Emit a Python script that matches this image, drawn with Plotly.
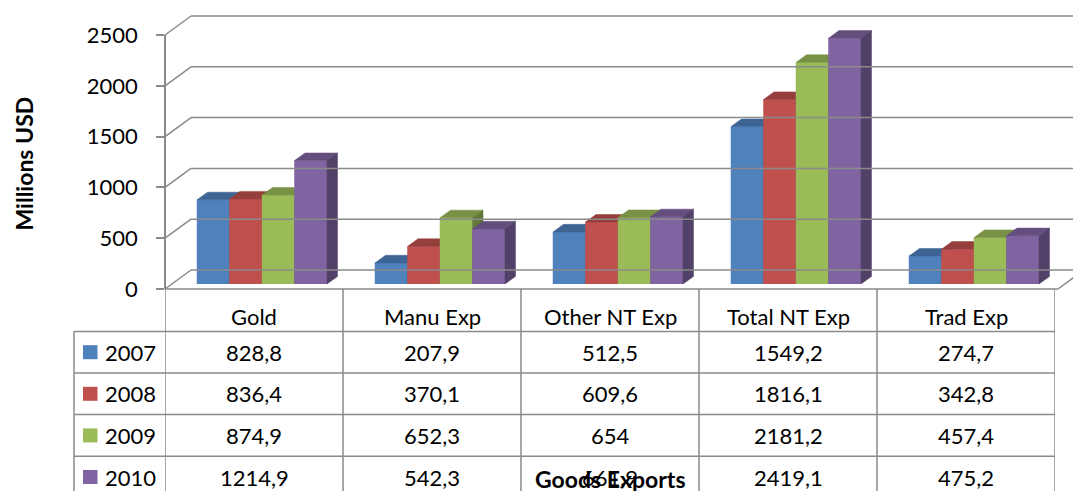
import plotly.graph_objects as go

# ---------------- data ----------------
categories = ["Gold", "Manu Exp", "Other NT Exp", "Total NT Exp", "Trad Exp"]
years = ["2007", "2008", "2009", "2010"]
v2007 = [828.8, 207.9, 512.5, 1549.2, 274.7]
v2008 = [836.4, 370.1, 609.6, 1816.1, 342.8]
v2009 = [874.9, 652.3, 654, 2181.2, 457.4]
v2010 = [1214.9, 542.3, 661.9, 2419.1, 475.2]
y_ticks = [0, 500, 1000, 1500, 2000, 2500]

series = [v2007, v2008, v2009, v2010]
front_colors = ["#4F81BD", "#C0504D", "#9BBB59", "#8064A2"]

# ---------------- geometry / style ----------------
W, H = 1073, 491
FONT = "Lato"
GRID = "#8A8A8A"


def py(p):
    return (H - p) / H


def px(p):
    return p / W


def shade(hex_color, f):
    r, g, b = int(hex_color[1:3], 16), int(hex_color[3:5], 16), int(hex_color[5:7], 16)
    return "#%02X%02X%02X" % (int(r * f), int(g * f), int(b * f))


def fmt(v):
    return ("%g" % v).replace(".", ",")


scale = 0.1016             # px per unit
bar_base_px = 284
axis_zero_px = 289
first_off = 32 / 178       # offset of first bar from category left edge (category units)
bw = 32.5 / 178            # bar width (category units)
ddx = 10.5 / 178           # depth offset in x (category units)
ddy = 7.6 / scale          # depth offset in y (value units)

y2_dom = [py(axis_zero_px), py(axis_zero_px - 2500 * scale)]


def y2_paper(v):
    return y2_dom[0] + (y2_dom[1] - y2_dom[0]) * v / 2500


fig = go.Figure()

for j, vals in enumerate(series):
    fx, fy, tx, ty, sx, sy = [], [], [], [], [], []
    for i, v in enumerate(vals):
        x0 = i - 0.5 + first_off + j * bw
        x1 = x0 + bw
        fx += [x0, x1, x1, x0, x0, None]
        fy += [0, 0, v, v, 0, None]
        tx += [x0, x1, x1 + ddx, x0 + ddx, x0, None]
        ty += [v, v, v + ddy, v + ddy, v, None]
        sx += [x1, x1 + ddx, x1 + ddx, x1, x1, None]
        sy += [0, ddy, v + ddy, v, 0, None]
    c = front_colors[j]
    for xs, ys, col in [(fx, fy, c), (tx, ty, shade(c, 0.78)), (sx, sy, shade(c, 0.64))]:
        fig.add_trace(go.Scatter(
            x=xs, y=ys, mode="lines", fill="toself", fillcolor=col,
            line=dict(color=col, width=0.5), hoverinfo="skip", showlegend=False,
            name=years[j], cliponaxis=False))

# dummy trace to activate the label axis
fig.add_trace(go.Scatter(x=[0], y=[0], xaxis="x", yaxis="y2", mode="markers",
                         marker=dict(size=1, opacity=0), hoverinfo="skip", showlegend=False))

shapes = []
# back-wall diagonals and gridlines
for t in y_ticks:
    shapes.append(dict(type="line", xref="paper", yref="paper", xsizemode="pixel", ysizemode="pixel",
                       xanchor=px(165), yanchor=y2_paper(t), x0=0, x1=26, y0=0, y1=19,
                       line=dict(color=GRID, width=1.5)))
    shapes.append(dict(type="line", xref="paper", yref="paper", ysizemode="pixel",
                       yanchor=y2_paper(t), x0=px(191), x1=1.0, y0=19, y1=19,
                       line=dict(color=GRID, width=1.5)))
# floor right diagonal
shapes.append(dict(type="line", xref="paper", yref="paper", xsizemode="pixel", ysizemode="pixel",
                   xanchor=px(1058), yanchor=y2_paper(0), x0=0, x1=26, y0=0, y1=19,
                   line=dict(color=GRID, width=1.5)))
# floor front edge / table top
shapes.append(dict(type="line", xref="paper", yref="paper", x0=px(165), x1=px(1058),
                   y0=py(289), y1=py(289), line=dict(color=GRID, width=1.5)))

# data table
header_top = 289
header_bot = 331.4
row_h = 41.6
for k in range(len(categories) + 1):
    shapes.append(dict(type="line", xref="x", yref="paper", x0=k - 0.5, x1=k - 0.5,
                       y0=py(header_top), y1=0, line=dict(color=GRID, width=1.5)))
for r in range(len(years)):
    yl = header_bot + r * row_h
    shapes.append(dict(type="line", xref="paper", yref="paper", x0=px(74), x1=px(1055),
                       y0=py(yl), y1=py(yl), line=dict(color=GRID, width=1.5)))
shapes.append(dict(type="line", xref="paper", yref="paper", x0=px(74), x1=px(74),
                   y0=py(header_bot), y1=0, line=dict(color=GRID, width=1.5)))
# legend keys in the table
for r in range(len(years)):
    yc = header_bot + (r + 0.5) * row_h
    shapes.append(dict(type="rect", xref="paper", yref="paper", x0=px(83), x1=px(97.5),
                       y0=py(yc + 7), y1=py(yc - 7), fillcolor=front_colors[r],
                       line=dict(width=0)))

annotations = []
for i, cat in enumerate(categories):
    annotations.append(dict(text=cat, xref="x", yref="paper", x=i, y=py(317),
                            showarrow=False, xanchor="center", yanchor="middle",
                            font=dict(family=FONT, size=22, color="black")))
for r, vals in enumerate(series):
    yc = header_bot + (r + 0.5) * row_h
    annotations.append(dict(text=years[r], xref="paper", yref="paper", x=px(103), y=py(yc),
                            showarrow=False, xanchor="left", yanchor="middle",
                            font=dict(family=FONT, size=22, color="black")))
    for i, v in enumerate(vals):
        annotations.append(dict(text=fmt(v), xref="x", yref="paper", x=i, y=py(yc),
                                showarrow=False, xanchor="center", yanchor="middle",
                                font=dict(family=FONT, size=22, color="black")))
annotations.append(dict(text="<b>Goods Exports</b>", xref="paper", yref="paper",
                        x=px(610), y=py(478.5), showarrow=False, xanchor="center",
                        yanchor="middle", font=dict(family=FONT, size=23, color="black")))
annotations.append(dict(text="<b>Millions USD</b>", xref="paper", yref="paper",
                        x=px(23.5), y=py(164), textangle=-90, showarrow=False,
                        xanchor="center", yanchor="middle",
                        font=dict(family=FONT, size=23, color="black")))

fig.update_layout(
    width=W, height=H,
    margin=dict(l=0, r=0, t=0, b=0, pad=0, autoexpand=False),
    paper_bgcolor="white", plot_bgcolor="rgba(0,0,0,0)",
    showlegend=False,
    xaxis=dict(domain=[px(165), px(1055)], range=[-0.5, 4.5], visible=False, fixedrange=True),
    yaxis=dict(domain=[py(bar_base_px), py(bar_base_px - 2500 * scale)], range=[0, 2500],
               visible=False, fixedrange=True),
    yaxis2=dict(domain=y2_dom, range=[0, 2500],
                anchor="free", position=px(165), side="left",
                tickvals=y_ticks, ticktext=[str(t) for t in y_ticks],
                showgrid=False, zeroline=False, showline=True, linecolor=GRID, linewidth=1.5,
                ticks="outside", ticklen=8, tickcolor=GRID, tickwidth=1.5,
                ticklabelstandoff=14, automargin=False,
                tickfont=dict(family=FONT, size=22, color="black"), fixedrange=True),
    shapes=shapes,
    annotations=annotations,
)

fig.write_html("out.html", config={"displayModeBar": False},
               post_script="document.body.style.margin='0';document.body.style.overflow='hidden';")
